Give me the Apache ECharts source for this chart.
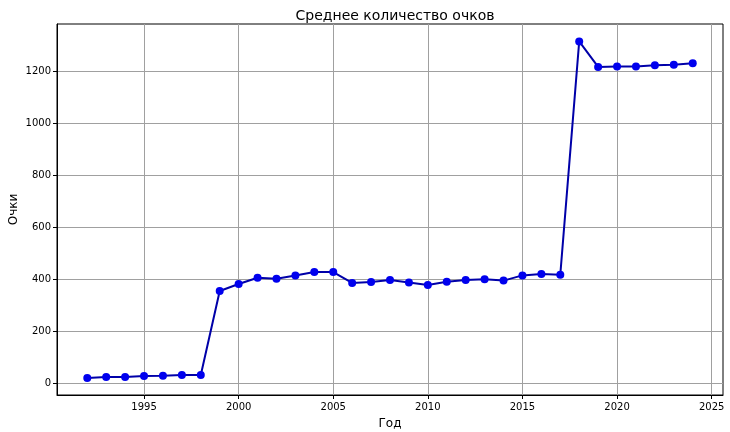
<!DOCTYPE html>
<html>
<head>
<meta charset="utf-8">
<script src="https://cdn.jsdelivr.net/npm/echarts@6/dist/echarts.min.js"></script>
<style>html,body{margin:0;padding:0;background:#fff}#c{width:730px;height:432px}</style>
</head>
<body>
<div id="c"></div>
<script>
const years = [1992,1993,1994,1995,1996,1997,1998,1999,2000,2001,2002,2003,2004,2005,2006,2007,2008,2009,2010,2011,2012,2013,2014,2015,2016,2017,2018,2019,2020,2021,2022,2023,2024];
const points = [20,24,24,28,29,32,32,355,382,406,402,415,428,428,386,390,397,388,378,391,397,400,395,415,420,418,1315,1217,1219,1219,1223,1225,1231];
const xTicks = [1995,2000,2005,2010,2015,2020,2025];
const yTicks = [0,200,400,600,800,1000,1200];
const titleText = 'Среднее количество очков';
const xName = 'Год';
const yName = 'Очки';

const font = 'DejaVu Sans';
const chart = echarts.init(document.getElementById('c'), null, {renderer:'canvas'});
chart.setOption({
  animation: false,
  backgroundColor: '#fff',
  title: {text: titleText, left: 390, top: 4, textAlign: 'center',
    textStyle: {fontFamily: font, fontSize: 14, fontWeight: 'normal', color: '#000'}},
  grid: {left: 57, right: 7, top: 24, bottom: 37, containLabel: false, outerBoundsMode: 'none',
    show: true, borderColor: '#000', borderWidth: 1, backgroundColor: 'transparent'},
  xAxis: {
    type: 'value', min: 1990.4, max: 2025.6,
    name: xName, nameLocation: 'middle', nameGap: 23, nameMoveOverlap: false,
    nameTextStyle: {fontFamily: font, fontSize: 12, color: '#000'},
    axisLine: {show: true, onZero: false, lineStyle: {color: '#000', width: 1}},
    axisTick: {show: true, length: 4, customValues: xTicks, lineStyle: {color: '#000'}},
    axisLabel: {customValues: xTicks, formatter: v => String(v), fontFamily: font, fontSize: 10, color: '#000', margin: 7},
    splitLine: {show: true, customValues: xTicks, lineStyle: {color: '#a0a0a0', width: 1}}
  },
  yAxis: {
    type: 'value', min: -45, max: 1382,
    name: yName, nameLocation: 'middle', nameGap: 37, nameRotate: 90, nameMoveOverlap: false,
    nameTextStyle: {fontFamily: font, fontSize: 12, color: '#000'},
    axisLine: {show: true, onZero: false, lineStyle: {color: '#000', width: 1}},
    axisTick: {show: true, length: 4, customValues: yTicks, lineStyle: {color: '#000'}},
    axisLabel: {customValues: yTicks, formatter: v => String(v), fontFamily: font, fontSize: 10, color: '#000', margin: 6},
    splitLine: {show: true, customValues: yTicks, lineStyle: {color: '#a0a0a0', width: 1}}
  },
  series: [{
    type: 'line',
    data: years.map((y, i) => [y, points[i]]),
    symbol: 'circle', symbolSize: 8,
    lineStyle: {color: '#0000a8', width: 2},
    itemStyle: {color: '#0000ee', borderWidth: 0},
    z: 5
  }]
});
</script>
</body>
</html>
